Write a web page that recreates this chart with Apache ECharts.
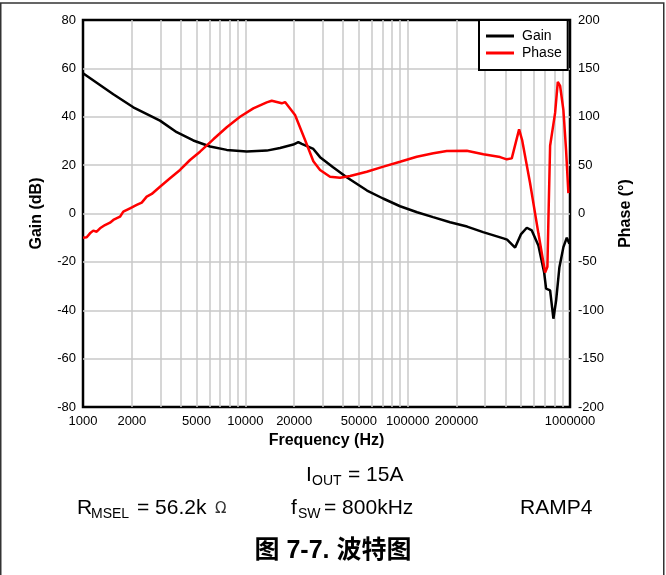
<!DOCTYPE html>
<html><head><meta charset="utf-8">
<script src="https://cdn.jsdelivr.net/npm/echarts@6/dist/echarts.min.js"></script>
<style>html,body{margin:0;padding:0;background:#fff}#c{width:666px;height:575px}</style>
</head><body><div id="c"></div>
<script>
// Frequency (Hz) and values
const gainFreq = [1000,1537,2041,2981,3778,4782,6060,7682,10200,13550,16360,19750,21210,22260,26240,28860,34710,42330,56220,70540,89790,114300,143400,182500,232300,291500,388800,409800,459000,499600,541900,581600,638700,692600,712500,754200,790300,821100,860600,910600,955600,991500];
const gainDb = [58.0,49.3,43.9,38.4,33.6,30.2,27.7,26.3,25.6,26.0,27.1,28.5,29.5,28.8,26.7,23.3,19.1,14.9,9.5,6.2,3.0,0.5,-1.5,-3.6,-5.4,-7.7,-10.3,-10.8,-14.1,-8.5,-5.9,-7.0,-13.2,-24.3,-31.1,-31.8,-43.5,-36,-22.2,-13.9,-10.0,-12.5];
const phaseFreq = [1000,1054,1104,1157,1214,1273,1366,1467,1537,1690,1771,1948,2142,2300,2469,2651,2981,3436,3960,4563,5259,6351,7682,9275,11200,13550,14540,16760,17560,20240,23330,26240,28860,33250,38330,44170,55980,70850,89790,113800,144000,174100,231300,292700,371000,407900,437800,485800,507000,567800,638700,702500,725800,736100,754200,809600,841100,868900,910600,946200,977500];
const phaseDeg = [-25,-24.6,-20.5,-17.7,-18.8,-15.3,-11.9,-9.5,-6.7,-3.3,1.9,5.4,8.8,11.2,17.4,20.2,27.7,36.4,45,55.3,63.9,76.7,89.1,100,108.7,114.9,116.6,113.9,115.2,101.8,76,54,45,38,37,38.8,43.2,48.4,53.5,58.7,62.2,64.6,64.9,61.2,58.3,56,57,87,76,31.2,-20.5,-61,-55,-7,70,104,136,132,107,65,21];
const xLabelValues = [1000,2000,5000,10000,20000,50000,100000,200000,1000000];
const xGridValues = [1000,2000,3000,4000,5000,6000,7000,8000,9000,10000,20000,30000,40000,50000,60000,70000,80000,90000,100000,200000,300000,400000,500000,600000,700000,800000,900000,1000000];
const seriesNames = ['Gain','Phase'];

const FONT = 'Liberation Sans, Arial, sans-serif';
const chart = echarts.init(document.getElementById('c'), null, {renderer:'canvas'});
const gridColor = '#c8c8c8';

chart.setOption({
  animation: false,
  backgroundColor: '#fff',
  grid: {left: 83, right: 96, top: 20, bottom: 168, show: true, borderColor: '#000', borderWidth: 2.5, backgroundColor: 'transparent', containLabel: false},
  legend: {
    data: seriesNames, orient: 'vertical', left: 479, top: 20,
    backgroundColor: '#fff', borderColor: '#000', borderWidth: 2,
    padding: [8, 6, 9, 7], itemGap: 1, itemWidth: 28, itemHeight: 3, icon: 'rect',
    textStyle: {fontFamily: FONT, fontSize: 14, color: '#000', lineHeight: 16, padding: [0, 0, 0, 3]}
  },
  xAxis: {
    type: 'log', logBase: 10, min: 1000, max: 1000000,
    name: 'Frequency (Hz)', nameLocation: 'middle', nameGap: 20,
    nameTextStyle: {fontFamily: FONT, fontSize: 16, fontWeight: 'bold', color: '#000'},
    axisLine: {show: false},
    axisTick: {show: false, customValues: xGridValues},
    axisLabel: {customValues: xLabelValues, formatter: v => String(v), fontFamily: FONT, fontSize: 13, color: '#000', margin: 8, showMinLabel: true, showMaxLabel: true, hideOverlap: false},
    splitLine: {show: true, showMinLine: false, showMaxLine: false, lineStyle: {color: gridColor, width: 1.5}},
    minorTick: {show: false}
  },
  yAxis: [{
    type: 'value', min: -80, max: 80, interval: 20,
    name: 'Gain (dB)', nameLocation: 'middle', nameGap: 38, nameRotate: 90,
    nameTextStyle: {fontFamily: FONT, fontSize: 16, fontWeight: 'bold', color: '#000'},
    axisLine: {show: false}, axisTick: {show: false},
    axisLabel: {fontFamily: FONT, fontSize: 13, color: '#000', margin: 7},
    splitLine: {show: true, showMinLine: false, showMaxLine: false, lineStyle: {color: gridColor, width: 1.5}}
  }, {
    type: 'value', min: -200, max: 200, interval: 50, position: 'right',
    name: 'Phase (°)', nameLocation: 'middle', nameGap: 48, nameRotate: 90,
    nameTextStyle: {fontFamily: FONT, fontSize: 16, fontWeight: 'bold', color: '#000'},
    axisLine: {show: false}, axisTick: {show: false},
    axisLabel: {fontFamily: FONT, fontSize: 13, color: '#000', margin: 8},
    splitLine: {show: false}
  }],
  series: [{
    name: seriesNames[0], type: 'line', yAxisIndex: 0, showSymbol: false, symbol: 'none',
    lineStyle: {color: '#000', width: 2.5}, itemStyle: {color: '#000'},
    data: gainFreq.map((f, i) => [f, gainDb[i]])
  }, {
    name: seriesNames[1], type: 'line', yAxisIndex: 1, showSymbol: false, symbol: 'none',
    lineStyle: {color: '#ff0000', width: 2.5}, itemStyle: {color: '#ff0000'},
    data: phaseFreq.map((f, i) => [f, phaseDeg[i]])
  }],
  graphic: [
    {type: 'rect', silent: true, shape: {x: 0.75, y: 3, width: 663, height: 620}, style: {fill: 'none', stroke: '#333', lineWidth: 1.5}},
    {type: 'text', x: 306, y: 475, style: {text: 'I', font: '21px ' + FONT, fill: '#000', verticalAlign: 'middle'}},
    {type: 'text', x: 312, y: 481, style: {text: 'OUT', font: '14px ' + FONT, fill: '#000', verticalAlign: 'middle'}},
    {type: 'text', x: 348, y: 475, style: {text: '= 15A', font: '21px ' + FONT, fill: '#000', verticalAlign: 'middle'}},
    {type: 'text', x: 77, y: 508.5, style: {text: 'R', font: '21px ' + FONT, fill: '#000', verticalAlign: 'middle'}},
    {type: 'text', x: 91, y: 514, style: {text: 'MSEL', font: '14px ' + FONT, fill: '#000', verticalAlign: 'middle'}},
    {type: 'text', x: 137, y: 508.5, style: {text: '= 56.2k', font: '21px ' + FONT, fill: '#000', verticalAlign: 'middle'}},
    {type: 'text', x: 215, y: 509, style: {text: 'Ω', font: '15px DejaVu Sans, sans-serif', fill: '#333', verticalAlign: 'middle'}},
    {type: 'text', x: 291, y: 508.5, style: {text: 'f', font: '21px ' + FONT, fill: '#000', verticalAlign: 'middle'}},
    {type: 'text', x: 298, y: 514, style: {text: 'SW', font: '14px ' + FONT, fill: '#000', verticalAlign: 'middle'}},
    {type: 'text', x: 324, y: 508.5, style: {text: '= 800kHz', font: '21px ' + FONT, fill: '#000', verticalAlign: 'middle'}},
    {type: 'text', x: 520, y: 508.5, style: {text: 'RAMP4', font: '21px ' + FONT, fill: '#000', verticalAlign: 'middle'}},
    {type: 'text', x: 333, y: 551, style: {text: '图 7-7. 波特图', font: 'bold 25px Liberation Sans, Noto Sans CJK SC, sans-serif', fill: '#000', align: 'center', verticalAlign: 'middle'}}
  ]
});
</script></body></html>
